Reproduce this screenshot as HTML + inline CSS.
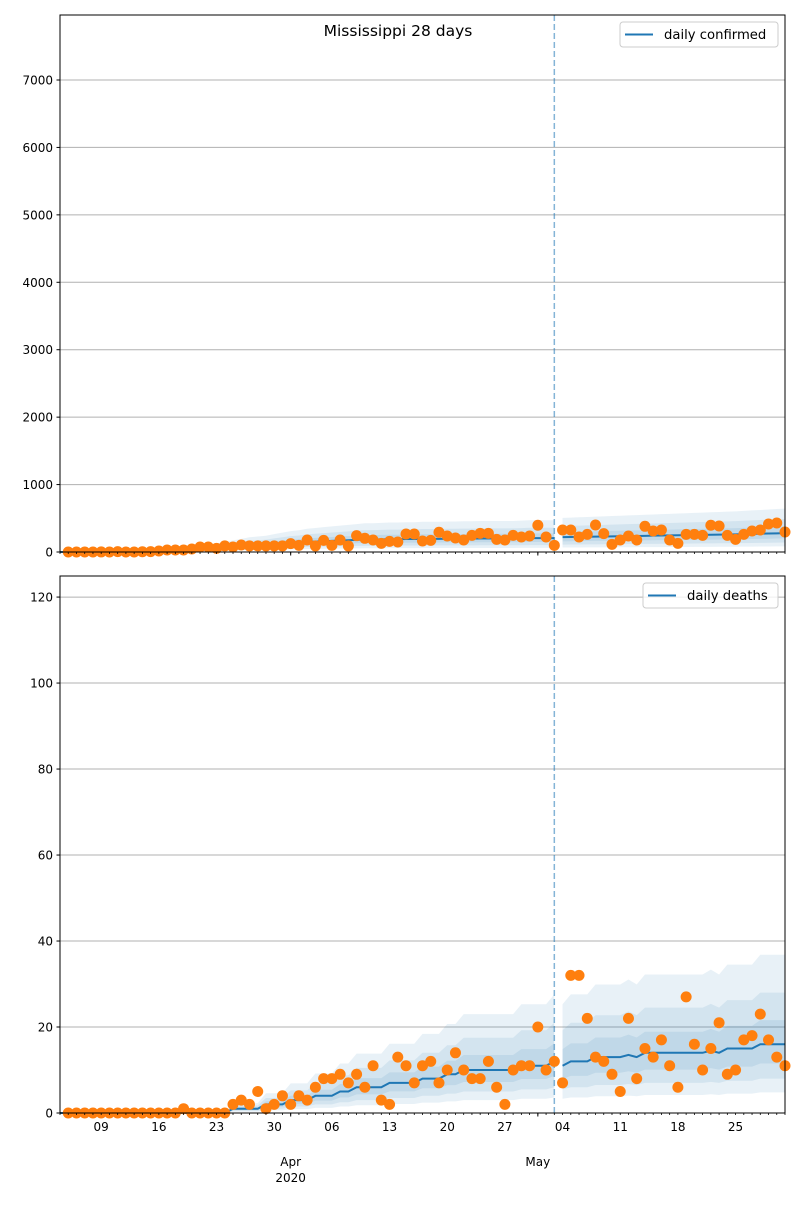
<!DOCTYPE html>
<html><head><meta charset="utf-8"><style>
body{margin:0;background:#fff;}
svg text{font-family:"DejaVu Sans","Liberation Sans",sans-serif;}
</style></head><body>
<svg id="chart" width="800" height="1200" xmlns="http://www.w3.org/2000/svg"></svg>
<script>
// Dates: day 0 = Mar 4, day 88 = May 31
const startLabel = "Mar 4";
// observed daily confirmed, Mar 5 .. May 31
const confirmedObs = [0,0,0,0,1,0,6,0,0,3,5,15,30,30,30,44,74,74,54,90,74,104,90,90,90,90,90,124,99,178,90,173,99,178,90,242,203,178,128,158,148,267,267,163,173,292,237,208,178,247,277,277,188,178,247,223,237,396,223,99,326,326,223,262,400,272,114,178,237,178,381,312,326,178,128,262,262,247,396,386,247,188,262,312,326,415,430,297];
// observed daily deaths, Mar 5 .. May 31
const deathsObs = [0,0,0,0,0,0,0,0,0,0,0,0,0,0,1,0,0,0,0,0,2,3,2,5,1,2,4,2,4,3,6,8,8,9,7,9,6,11,3,2,13,11,7,11,12,7,10,14,10,8,8,12,6,2,10,11,11,20,10,12,7,32,32,22,13,12,9,5,22,8,15,13,17,11,6,27,16,10,15,21,9,10,17,18,23,17,13,11];
// fitted mean, past segment Mar 4 .. May 3
const confirmedFit = [0,0,0,0,0,0,0,0,0,0,0,0,0,5,10,15,25,35,45,55,65,75,85,95,100,105,115,125,135,140,150,155,160,165,170,175,180,185,185,188,190,190,192,192,195,195,195,197,197,198,198,200,200,200,200,200,202,205,205,205,205];
// forecast mean May 4 .. May 31
const confirmedFc = [220,222,224,226,228,230,232,234,236,238,240,242,244,246,248,250,252,254,256,258,260,262,265,268,271,274,277,280];
const deathsFit = [0,0,0,0,0,0,0,0,0,0,0,0,0,0,0,0,0,0,0,0,0,1,1,1,1,2,2,2,3,3,3,4,4,4,5,5,6,6,6,6,7,7,7,7,8,8,8,9,9,10,10,10,10,10,10,10,11,11,11,11,12];
const deathsFc = [11,12,12,12,13,13,13,13,13.5,13,14,14,14,14,14,14,14,14,14.5,14,15,15,15,15,16,16,16,16];
const confTicks = [0,1000,2000,3000,4000,5000,6000,7000];
const deathTicks = [0,20,40,60,80,100,120];
const dayTickDays = [5,12,19,26,33,40,47,54,61,68,75,82];
const dayTickLabels = ["09","16","23","30","06","13","20","27","04","11","18","25"];
const monthDays = [28,58];
const monthLabels = ["Apr","May"];
const splitDay = 60;
const bandHi = [2.3,1.75,1.35];
const bandLo = [0.3,0.5,0.72];

const NS="http://www.w3.org/2000/svg";
const svg=document.getElementById('chart');
function mk(tag,attrs,parent){const e=document.createElementNS(NS,tag);for(const k in attrs)e.setAttribute(k,attrs[k]);(parent||svg).appendChild(e);return e;}
const L=60,R=785;
function xs(d){return L+d*(R-L)/88;}
function makeY(top,bot,max){return v=>bot-v*(bot-top)/max;}
const panels=[
 {name:'confirmed',top:15,bot:552,max:7964,ticks:confTicks,obs:confirmedObs,fit:confirmedFit,fc:confirmedFc,legend:'daily confirmed',lx:620,lw:158},
 {name:'deaths',top:576,bot:1113,max:124.9,ticks:deathTicks,obs:deathsObs,fit:deathsFit,fc:deathsFc,legend:'daily deaths',lx:643,lw:135}
];
panels.forEach((p,pi)=>{
 const y=makeY(p.top,p.bot,p.max);
 const g=mk('g',{});
 
 
 p.ticks.forEach(t=>{
  const gl=mk('line',{x1:L,x2:R,y1:y(t),y2:y(t),stroke:'#b0b0b0','stroke-width':1},g);
  
  
  mk('line',{x1:L-3.5,x2:L,y1:y(t),y2:y(t),stroke:'#000'},g);
  const tx=mk('text',{x:L-7,y:y(t)+4.5,'text-anchor':'end','font-size':12},g);
  tx.textContent=t;
  
  
 });
 [[p.fit,0],[p.fc,splitDay+1]].forEach(([arr,off])=>{
  for(let k=0;k<3;k++){
   let pts=[];
   arr.forEach((v,i)=>pts.push(xs(i+off)+','+y(v*bandHi[k])));
   for(let i=arr.length-1;i>=0;i--)pts.push(xs(i+off)+','+y(arr[i]*bandLo[k]));
   const pg=mk('polygon',{points:pts.join(' '),fill:'#1f77b4','fill-opacity':0.1},g);
   
   
  }
  const ln=mk('polyline',{points:arr.map((v,i)=>xs(i+off)+','+y(v)).join(' '),fill:'none',stroke:'#1f77b4','stroke-width':2},g);
  
  
 });
 const vl=mk('line',{x1:xs(splitDay),x2:xs(splitDay),y1:p.top,y2:p.bot,stroke:'#1f77b4','stroke-opacity':0.55,'stroke-width':1.5,'stroke-dasharray':'6,3'},g);
 
 
 p.obs.forEach((v,i)=>{
  const c=mk('circle',{cx:xs(i+1),cy:y(v),r:5.5,fill:'#ff7f0e'},g);
  
  
 });
 for(let d=0;d<=88;d++){mk('line',{x1:xs(d),x2:xs(d),y1:p.bot,y2:p.bot+2,stroke:'#000','stroke-width':0.8},g);}
 monthDays.forEach(d=>mk('line',{x1:xs(d),x2:xs(d),y1:p.bot,y2:p.bot+3.5,stroke:'#000'},g));
 if(pi===1){
  dayTickDays.forEach((d,i)=>{
   const t=mk('text',{x:xs(d),y:p.bot+18,'text-anchor':'middle','font-size':12},g);
   t.textContent=dayTickLabels[i];
   
   
  });
  monthDays.forEach((d,i)=>{
   const t=mk('text',{x:xs(d),y:1166,'text-anchor':'middle','font-size':12},g);
   t.textContent=monthLabels[i];
   
   
  });
  const yr=mk('text',{x:xs(28),y:1182,'text-anchor':'middle','font-size':12},g);
  yr.textContent='2020';
  
  
 }
 const fr=mk('rect',{x:L,y:p.top,width:R-L,height:p.bot-p.top,fill:'none',stroke:'#000','stroke-width':1},g);
 
 
 const lg=mk('g',{},g);
 
 
 const ly=p.top+7;
 mk('rect',{x:p.lx,y:ly,width:p.lw,height:25,rx:3,fill:'#fff','fill-opacity':0.8,stroke:'#ccc'},lg);
 mk('line',{x1:p.lx+5,x2:p.lx+33,y1:ly+12.5,y2:ly+12.5,stroke:'#1f77b4','stroke-width':2},lg);
 const lt=mk('text',{x:p.lx+44,y:ly+17,'font-size':13.2},lg);
 lt.textContent=p.legend;
 
 
});
const title=mk('text',{x:398,y:36,'text-anchor':'middle','font-size':15.5});
title.textContent='Mississippi 28 days';


</script>
</body></html>
